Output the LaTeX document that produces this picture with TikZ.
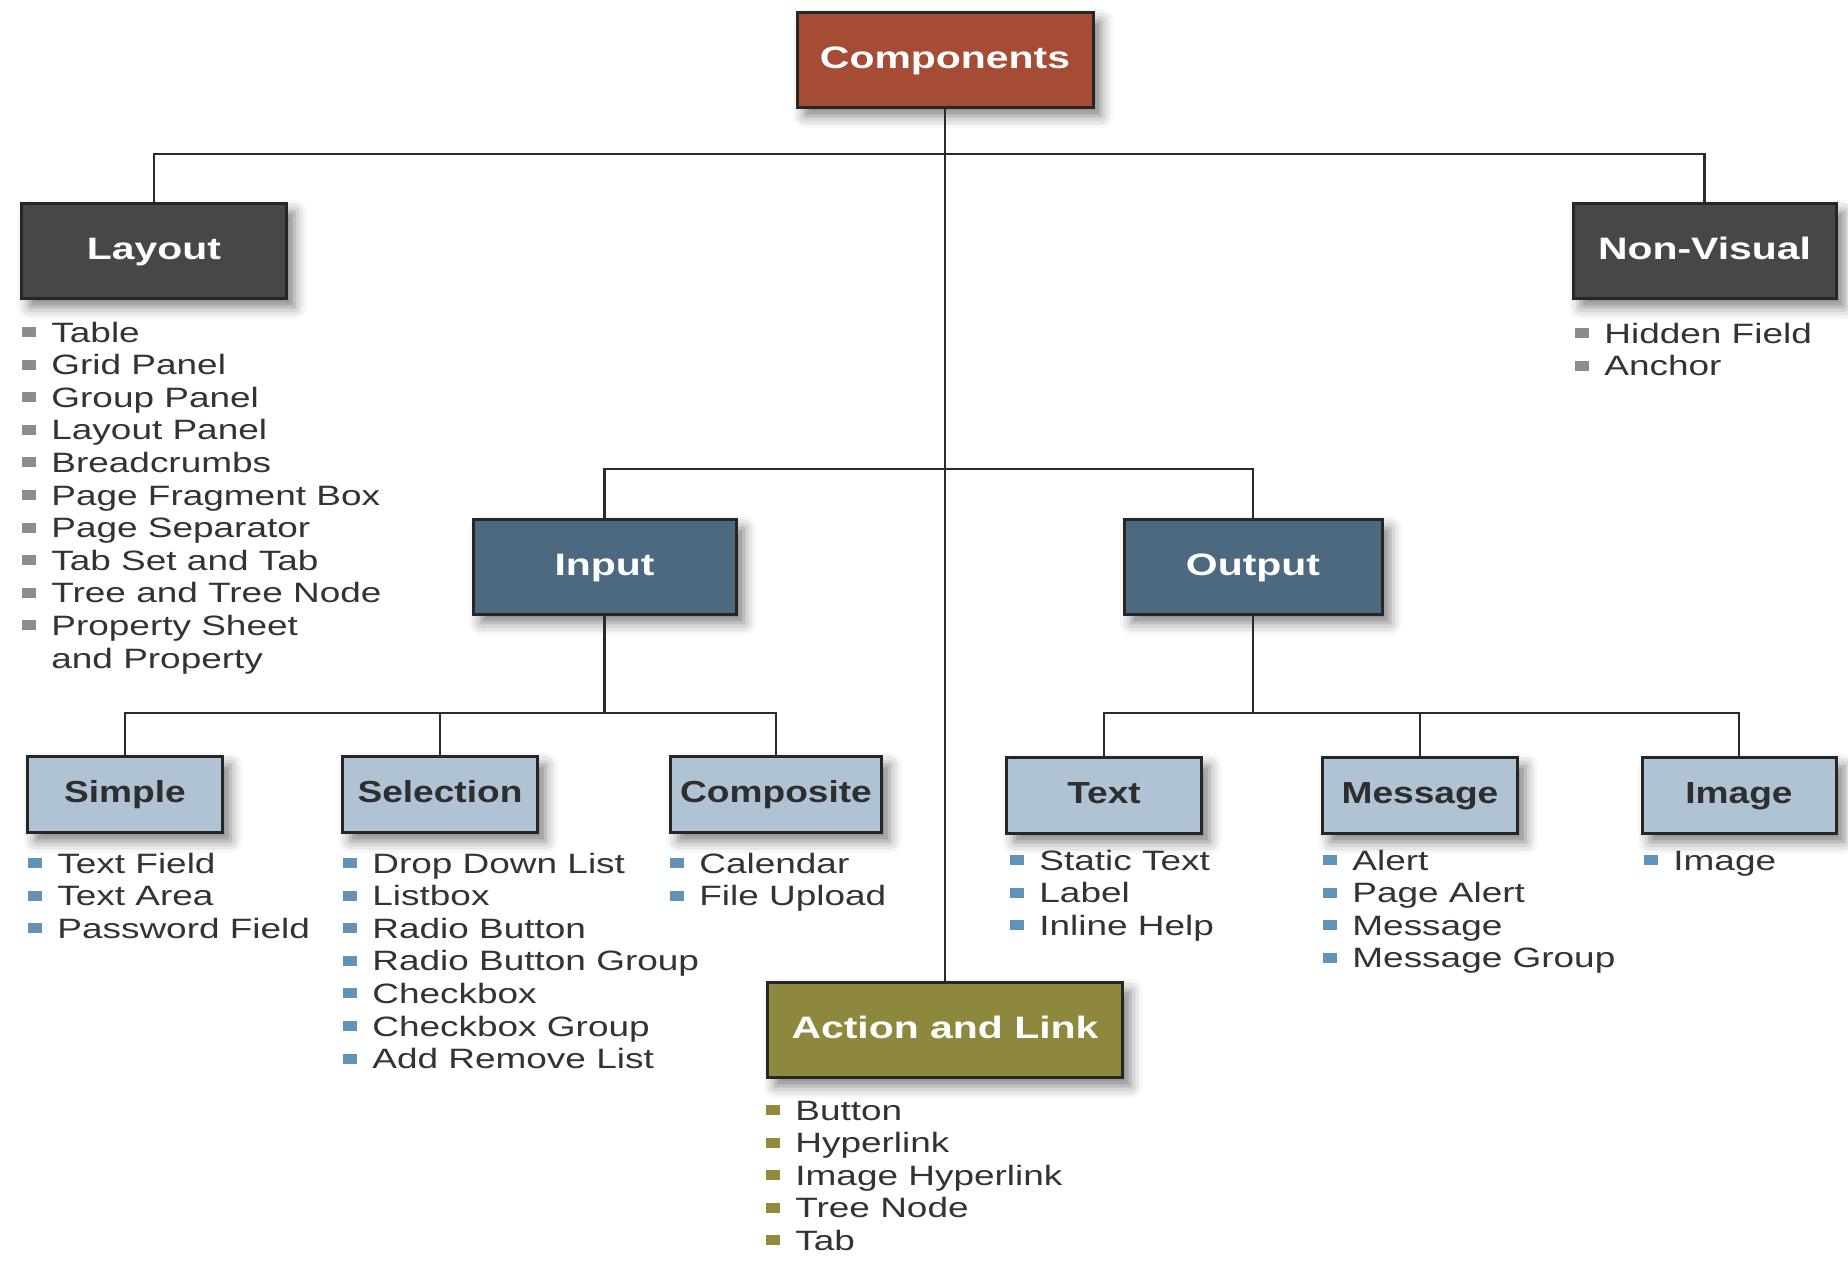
\documentclass[tikz,border=0pt]{standalone}
\usepackage{fontspec}
\setmainfont{Liberation Sans}[FakeStretch=1.32]
\newfontfamily\subfont{Liberation Sans}[FakeStretch=1.22]
\usepackage{xcolor}
\usepackage{tikz}
\usetikzlibrary{calc,shadows.blur}
\definecolor{cmpred}{HTML}{A64B34}
\definecolor{laygray}{HTML}{474747}
\definecolor{ioblue}{HTML}{4C697F}
\definecolor{subblue}{HTML}{AFC3D5}
\definecolor{actolive}{HTML}{8E883F}
\definecolor{boxline}{HTML}{262626}
\definecolor{connline}{HTML}{2B2B2B}
\definecolor{subtext}{HTML}{2E2E2E}
\definecolor{leaftext}{HTML}{333333}
\definecolor{bulgray}{HTML}{8C8C8C}
\definecolor{bulblue}{HTML}{6193B8}
\definecolor{bulolive}{HTML}{8F8A3E}

\begin{document}
\begin{tikzpicture}[
  x=0.5pt, y=-0.5pt,
  box/.style={draw=boxline, line width=1.5pt, minimum height=47.5pt, inner sep=0pt,
              text height=0.88em, text depth=0pt,
              text=white, font=\fontsize{15.5pt}{18pt}\selectfont\bfseries,
              blur shadow={shadow xshift=4pt, shadow yshift=-4.5pt, shadow blur radius=6pt, shadow opacity=50}},
  subbox/.style={box, fill=subblue, minimum width=97.5pt, minimum height=38pt,
                 text=subtext, font=\subfont\fontsize{15.2pt}{18pt}\selectfont\bfseries},
  leaf/.style={anchor=base west, inner sep=0pt, text=leaftext, font=\fontsize{14pt}{16pt}\selectfont},
  conn/.style={draw=connline, line width=1.25pt},
]
\useasboundingbox (0,0) rectangle (1848,1260);

\newcommand{\blt}[1]{\textcolor{#1}{\rule[2.5pt]{7pt}{5pt}}\hspace{7.5pt}}
\newcommand{\leaflist}[5]{\foreach \itm [count=\i from 0] in {#5}{
  \node[leaf] (#1-\i) at (#2,{#3+32.6*\i}) {\blt{#4}\itm};}}

% ---- boxes ----
\node[box, fill=cmpred, minimum width=148pt] (comp) at (945,59.5) {Components};
\node[box, fill=laygray, minimum width=132.5pt] (layout) at (154,250.5) {Layout};
\node[box, fill=laygray, minimum width=131.5pt] (nonvis) at (1704.5,250.5) {Non-Visual};
\node[box, fill=ioblue, minimum width=131.5pt] (input) at (604.5,566.5) {Input};
\node[box, fill=ioblue, minimum width=129pt] (output) at (1253,566.5) {Output};
\node[subbox] (simple) at (125,794) {Simple};
\node[subbox] (selection) at (440,794) {Selection};
\node[subbox, minimum width=105.5pt] (composite) at (776,794) {Composite};
\node[subbox] (text) at (1104,795) {Text};
\node[subbox] (message) at (1420,795) {Message};
\node[subbox, minimum width=97pt] (image) at (1739,795) {Image};
\node[box, fill=actolive, minimum width=177.5pt] (action) at (945,1029.5) {Action and Link};

% ---- connectors ----
\coordinate (topbus) at (945,154);
\coordinate (iobus) at (945,469);
\coordinate (inbus) at (input.south |- 0,713);
\coordinate (outbus) at (output.south |- 0,713);
\draw[conn] (comp.south) -- (action.north);
\draw[conn] (layout.north) |- (topbus) -| (nonvis.north);
\draw[conn] (input.north) |- (iobus) -| (output.north);
\draw[conn] (input.south) -- (inbus);
\draw[conn] (simple.north) |- (inbus) -| (composite.north);
\draw[conn] (selection.north) -- (selection.north |- inbus);
\draw[conn] (output.south) -- (outbus);
\draw[conn] (text.north) |- (outbus) -| (image.north);
\draw[conn] (message.north) -- (message.north |- outbus);

% ---- lists ----
\leaflist{lay}{22}{342}{bulgray}{Table,Grid Panel,Group Panel,Layout Panel,Breadcrumbs,Page Fragment Box,Page Separator,Tab Set and Tab,Tree and Tree Node,Property Sheet}
\node[leaf] (lay-10) at (51,668) {and Property};
\leaflist{nv}{1575}{343}{bulgray}{Hidden Field,Anchor}
\leaflist{smp}{28}{873}{bulblue}{Text Field,Text Area,Password Field}
\leaflist{sel}{343}{873}{bulblue}{Drop Down List,Listbox,Radio Button,Radio Button Group,Checkbox,Checkbox Group,Add Remove List}
\leaflist{cps}{670}{873}{bulblue}{Calendar,File Upload}
\leaflist{txt}{1010}{870}{bulblue}{Static Text,Label,Inline Help}
\leaflist{msg}{1323}{870}{bulblue}{Alert,Page Alert,Message,Message Group}
\leaflist{img}{1644}{870}{bulblue}{Image}
\leaflist{act}{766}{1120}{bulolive}{Button,Hyperlink,Image Hyperlink,Tree Node,Tab}

\end{tikzpicture}
\end{document}
